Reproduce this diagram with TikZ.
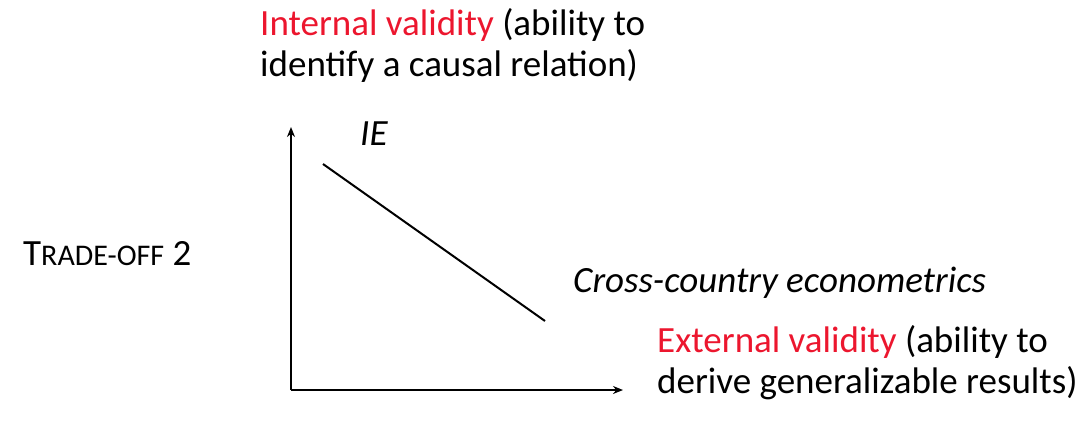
\documentclass[tikz,border=0pt]{standalone}
\usepackage{fontspec}
\setmainfont{Carlito}
\usepackage{xcolor}
\usepackage{tikz}
\usetikzlibrary{arrows.meta}
\definecolor{valred}{RGB}{236,22,46}

\begin{document}
\begin{tikzpicture}[x=1bp, y=-1bp,
  txt/.style={anchor=base west, inner sep=0pt, align=left, font=\fontsize{37bp}{41bp}\selectfont},
  axis/.style={line width=2.6bp, -{Stealth[length=10bp, width=8bp]}}]
\useasboundingbox (0,0) rectangle (1084,420);

% Axes
\coordinate (O) at (291,390);
\coordinate (ytip) at (291,127);
\coordinate (xtip) at (623,390);
\draw[axis] (O) -- (ytip);
\draw[axis] (O) -- (xtip);

% Trade-off line
\coordinate (ie) at (323,164);
\coordinate (cc) at (545,321);
\draw[line width=2bp] (ie) -- (cc);

% Labels (base = last line)
\node[txt] (intval) at (260,76) {\textcolor{valred}{Internal validity} (ability to\\identify a causal relation)};
\node[txt] (extval) at (657,393) {\textcolor{valred}{External validity} (ability to\\derive generalizable results)};
\node[txt] (ielab) at (360,145) {\itshape IE};
\node[txt] (cclab) at (573,292) {\itshape Cross-country econometrics};
\node[txt] (trade) at (23,265) {T{\fontsize{30bp}{32bp}\selectfont RADE-OFF} 2};

\end{tikzpicture}
\end{document}
